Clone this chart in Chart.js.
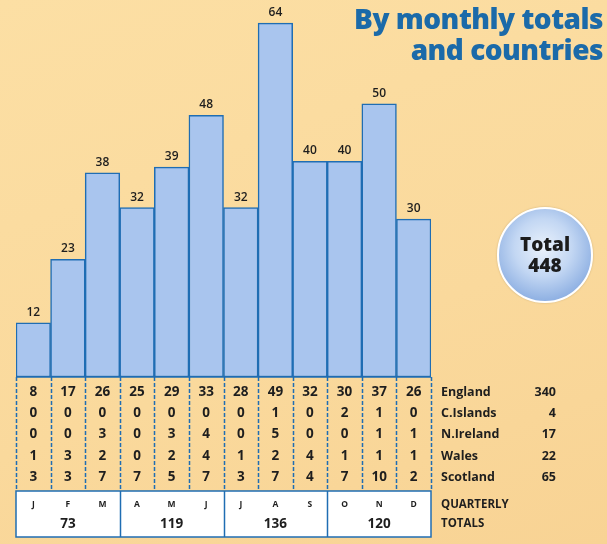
<!DOCTYPE html>
<html>
<head>
<meta charset="utf-8">
<script src="https://cdn.jsdelivr.net/npm/chart.js@4/dist/chart.umd.min.js"></script>
<style>
  html, body { margin: 0; padding: 0; }
  body { width: 607px; height: 544px; overflow: hidden; position: relative;
         background: linear-gradient(160deg, #fcdfa4 0%, #fad99c 60%, #f8d394 100%);
         font-family: "Open Sans", "Noto Sans", sans-serif; }
  #grafico { position: absolute; left: 0; top: 0; }
  #titulo { position: absolute; right: 4px; top: 3px; text-align: right;
            font-weight: 800; font-size: 28px; line-height: 31px; letter-spacing: -0.5px;
            color: #1b6aa9; }
  #total { position: absolute; left: 497px; top: 207px; width: 92px; height: 92px;
           border-radius: 50%; border: 2px solid #fff;
           background: radial-gradient(circle at 48% 42%, #eaf2fc 0%, #c3d7f3 40%, #86aae0 80%, #6e98d6 100%);
           box-shadow: 0 0 2px rgba(120,100,60,0.4);
           display: flex; flex-direction: column; align-items: center; justify-content: center;
           font-weight: 800; font-size: 19px; line-height: 21px; color: #1c1c1c; }
</style>
</head>
<body>
<canvas id="grafico" width="607" height="544"></canvas>
<div id="titulo">By monthly totals<br>and countries</div>
<div id="total"><span>Total</span><span id="totalValor"></span></div>
<script>
// dados
const meses = ['J', 'F', 'M', 'A', 'M', 'J', 'J', 'A', 'S', 'O', 'N', 'D'];
const totaisMensais = [12, 23, 38, 32, 39, 48, 32, 64, 40, 40, 50, 30];
const paises = ['England', 'C.Islands', 'N.Ireland', 'Wales', 'Scotland'];
const england = [8, 17, 26, 25, 29, 33, 28, 49, 32, 30, 37, 26];
const cIslands = [0, 0, 0, 0, 0, 0, 0, 1, 0, 2, 1, 0];
const nIreland = [0, 0, 3, 0, 3, 4, 0, 5, 0, 0, 1, 1];
const wales = [1, 3, 2, 0, 2, 4, 1, 2, 4, 1, 1, 1];
const scotland = [3, 3, 7, 7, 5, 7, 3, 7, 4, 7, 10, 2];
const totaisPaises = [340, 4, 17, 22, 65];
const totaisTrimestrais = [73, 119, 136, 120];
const totalGeral = 448;

const linhasPaises = [england, cIslands, nIreland, wales, scotland];
const yMin = 2.6;
const corBorda = '#1f6db3';
const corTexto = '#1e1e1e';

document.getElementById('totalValor').textContent = totalGeral;

// rótulos acima das barras
const rotulosBarras = {
    id: 'rotulosBarras',
    afterDatasetsDraw(chart) {
        const ctx = chart.ctx;
        const meta = chart.getDatasetMeta(0);
        ctx.save();
        ctx.font = '600 12px "Open Sans", sans-serif';
        ctx.fillStyle = corTexto;
        ctx.textAlign = 'center';
        ctx.textBaseline = 'alphabetic';
        meta.data.forEach((barra, i) => {
            ctx.fillText(totaisMensais[i], barra.x, barra.y - 7);
        });
        ctx.restore();
    }
};

// tabela de países e totais trimestrais
const tabela = {
    id: 'tabela',
    afterDraw(chart) {
        const ctx = chart.ctx;
        const x = chart.scales.x;
        const area = chart.chartArea;
        const larg = (area.right - area.left) / meses.length;
        const topo = area.bottom;
        const topoCaixa = 491;
        const baseCaixa = 537;
        const linhasY = [392, 413, 434, 456, 477];

        ctx.save();
        // linhas tracejadas entre colunas
        ctx.strokeStyle = corBorda;
        ctx.lineWidth = 1.5;
        ctx.setLineDash([4, 2]);
        for (let i = 0; i <= meses.length; i++) {
            const px = Math.round(area.left + i * larg) + 0.5;
            ctx.beginPath();
            ctx.moveTo(px, topo);
            ctx.lineTo(px, topoCaixa);
            ctx.stroke();
        }
        ctx.setLineDash([]);
        ctx.beginPath();
        ctx.moveTo(area.left, topo);
        ctx.lineTo(area.right, topo);
        ctx.stroke();

        // caixa branca
        ctx.fillStyle = '#ffffff';
        ctx.fillRect(area.left, topoCaixa, area.right - area.left, baseCaixa - topoCaixa);
        ctx.strokeRect(area.left, topoCaixa, area.right - area.left, baseCaixa - topoCaixa);
        for (let q = 1; q < 4; q++) {
            const px = Math.round(area.left + q * 3 * larg) + 0.5;
            ctx.beginPath();
            ctx.moveTo(px, topoCaixa);
            ctx.lineTo(px, baseCaixa);
            ctx.stroke();
        }

        // valores por país
        ctx.fillStyle = corTexto;
        ctx.textAlign = 'center';
        ctx.textBaseline = 'middle';
        ctx.font = '700 13.5px "Open Sans", sans-serif';
        linhasPaises.forEach((linha, r) => {
            linha.forEach((v, i) => {
                ctx.fillText(v, x.getPixelForValue(i), linhasY[r]);
            });
        });

        // letras dos meses
        ctx.font = '700 8.5px "Open Sans", sans-serif';
        meses.forEach((m, i) => {
            ctx.fillText(m, x.getPixelForValue(i), 505);
        });

        // totais trimestrais
        ctx.font = '700 13.5px "Open Sans", sans-serif';
        totaisTrimestrais.forEach((t, q) => {
            ctx.fillText(t, x.getPixelForValue(q * 3 + 1), 524);
        });

        // legenda à direita
        ctx.textAlign = 'left';
        ctx.font = '700 12.5px "Open Sans", sans-serif';
        paises.forEach((p, r) => {
            ctx.fillText(p, 441, linhasY[r]);
        });
        ctx.textAlign = 'right';
        totaisPaises.forEach((t, r) => {
            ctx.fillText(t, 556, linhasY[r]);
        });
        ctx.textAlign = 'left';
        ctx.font = '700 11.5px "Open Sans", sans-serif';
        ctx.fillText('QUARTERLY', 441, 505);
        ctx.fillText('TOTALS', 441, 524);
        ctx.restore();
    }
};

new Chart(document.getElementById('grafico'), {
    type: 'bar',
    data: {
        labels: meses,
        datasets: [{
            data: totaisMensais,
            backgroundColor: '#a9c5ee',
            borderColor: corBorda,
            borderWidth: 1.5,
            borderSkipped: false,
            base: yMin,
            categoryPercentage: 1,
            barPercentage: 1
        }]
    },
    options: {
        responsive: false,
        animation: false,
        layout: { padding: { left: 16, right: 176, top: 0, bottom: 167 } },
        scales: {
            x: { display: false },
            y: { display: false, min: yMin, max: 68 }
        },
        plugins: { legend: { display: false }, tooltip: { enabled: false } }
    },
    plugins: [rotulosBarras, tabela]
});
</script>
</body>
</html>
